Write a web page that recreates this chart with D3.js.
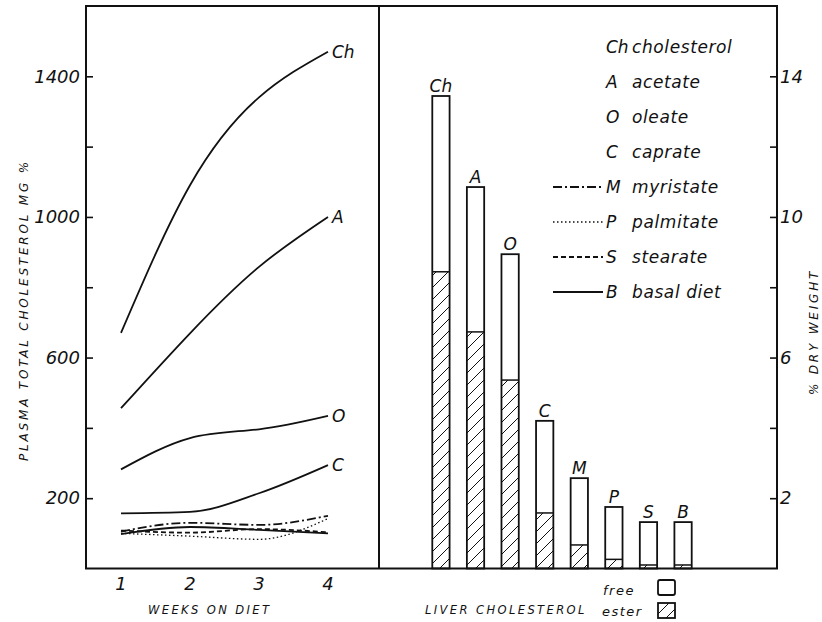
<!DOCTYPE html>
<html>
<head>
<meta charset="utf-8">
<script src="https://cdn.jsdelivr.net/npm/d3@7"></script>
<style>
  body { margin: 0; background: #fff; }
  text { font-family: "DejaVu Sans", sans-serif; font-style: italic; fill: #111; }
</style>
</head>
<body>
<svg width="822" height="622"></svg>
<script>
/**
 * data
 */
var weeks = [1, 2, 3, 4];
var plasmaCh = [670, 1090, 1340, 1470];
var plasmaA = [456, 669, 858, 1000];
var plasmaO = [282, 371, 396, 434];
var plasmaC = [157, 161, 214, 294];
var plasmaM = [105, 130, 124, 150];
var plasmaP = [100, 92, 83, 142];
var plasmaS = [108, 102, 112, 103];
var plasmaB = [98, 118, 110, 100];
var plasmaTicks = [200, 600, 1000, 1400];
var plasmaMinorTicks = [400, 800, 1200];

var barCodes = ["Ch", "A", "O", "C", "M", "P", "S", "B"];
var liverTotal = [13.44, 10.85, 8.94, 4.2, 2.57, 1.75, 1.32, 1.32];
var liverEster = [8.44, 6.73, 5.36, 1.58, 0.67, 0.26, 0.1, 0.1];
var pctTicks = [2, 6, 10, 14];
var pctMinorTicks = [4, 8, 12];

var legendCodes = ["Ch", "A", "O", "C", "M", "P", "S", "B"];
var legendNames = ["cholesterol", "acetate", "oleate", "caprate", "myristate", "palmitate", "stearate", "basal diet"];

// line styles for the lower curves
var dashes = { M: "9,3,2,3", P: "1.5,2.5", S: "5,3", B: null };

/**
 * svg set up
 */
var svg = d3.select("svg");
var frameLeft = 86, frameRight = 777, divider = 379, frameTop = 6, frameBottom = 568.5;

var y = d3.scaleLinear().domain([0, 1600]).range([frameBottom, frameTop]);
var yPct = d3.scaleLinear().domain([0, 16]).range([frameBottom, frameTop]);
var x = d3.scaleLinear().domain([1, 4]).range([121, 328]);
var xb = d3.scaleBand().domain(barCodes).range([415, 709])
    .paddingInner(0.5).paddingOuter(0.5);

// hatch pattern for ester part
var defs = svg.append("defs");
defs.append("pattern")
    .attr("id", "hatch")
    .attr("patternUnits", "userSpaceOnUse")
    .attr("width", 12).attr("height", 12)
  .append("path")
    .attr("d", "M-3,3 L3,-3 M0,12 L12,0 M9,15 L15,9")
    .attr("stroke", "#111").attr("stroke-width", 1);

// frame
svg.append("rect")
    .attr("x", frameLeft).attr("y", frameTop)
    .attr("width", frameRight - frameLeft).attr("height", frameBottom - frameTop)
    .attr("fill", "none").attr("stroke", "#111").attr("stroke-width", 2);
svg.append("line")
    .attr("x1", divider).attr("x2", divider).attr("y1", frameTop).attr("y2", frameBottom)
    .attr("stroke", "#111").attr("stroke-width", 2);

/**
 * axes (ticks point inward)
 */
function styleAxis(g) {
  g.select(".domain").remove();
  g.selectAll("line").attr("stroke", "#111").attr("stroke-width", 1.6);
  g.selectAll("text").attr("font-size", 18).attr("font-family", null).attr("fill", "#111");
}

svg.append("g").attr("transform", "translate(" + frameLeft + ",0)")
    .call(d3.axisLeft(y).tickValues(plasmaTicks).tickSize(-7).tickPadding(6).tickFormat(d3.format("d")))
    .call(styleAxis);
svg.append("g").attr("transform", "translate(" + frameLeft + ",0)")
    .call(d3.axisLeft(y).tickValues(plasmaMinorTicks).tickSize(-7).tickFormat(""))
    .call(styleAxis);

svg.append("g").attr("transform", "translate(" + frameRight + ",0)")
    .call(d3.axisRight(yPct).tickValues(pctTicks).tickSize(-7).tickPadding(3))
    .call(styleAxis);
svg.append("g").attr("transform", "translate(" + frameRight + ",0)")
    .call(d3.axisRight(yPct).tickValues(pctMinorTicks).tickSize(-7).tickFormat(""))
    .call(styleAxis);

// week labels
svg.append("g").selectAll("text")
    .data(weeks)
  .enter().append("text")
    .attr("x", d => x(d))
    .attr("y", 590)
    .attr("text-anchor", "middle")
    .attr("font-size", 18)
    .text(d => d);

// axis titles
svg.append("text")
    .attr("transform", "translate(28,310) rotate(-90)")
    .attr("text-anchor", "middle")
    .attr("font-size", 12)
    .attr("letter-spacing", 2.8)
    .text("PLASMA TOTAL CHOLESTEROL MG %");
svg.append("text")
    .attr("transform", "translate(818,332) rotate(-90)")
    .attr("text-anchor", "middle")
    .attr("font-size", 12)
    .attr("letter-spacing", 2.8)
    .text("% DRY WEIGHT");
svg.append("text")
    .attr("x", 148).attr("y", 614)
    .attr("font-size", 11.5)
    .attr("letter-spacing", 2.4)
    .text("WEEKS ON DIET");
svg.append("text")
    .attr("x", 425).attr("y", 614)
    .attr("font-size", 11.5)
    .attr("letter-spacing", 2.4)
    .text("LIVER CHOLESTEROL");

/**
 * plasma curves
 */
var series = [
  { code: "Ch", values: plasmaCh },
  { code: "A", values: plasmaA },
  { code: "O", values: plasmaO },
  { code: "C", values: plasmaC },
  { code: "M", values: plasmaM },
  { code: "P", values: plasmaP },
  { code: "S", values: plasmaS },
  { code: "B", values: plasmaB }
];

// smooth hand drawn look for the three big curves
var lineSmooth = d3.line()
    .x((d, i) => x(weeks[i]))
    .y(d => y(d))
    .curve(d3.curveNatural);
var lineFlat = d3.line()
    .x((d, i) => x(weeks[i]))
    .y(d => y(d))
    .curve(d3.curveMonotoneX);

svg.append("g").selectAll("path")
    .data(series)
  .enter().append("path")
    .attr("d", (d, i) => i < 3 ? lineSmooth(d.values) : lineFlat(d.values))
    .attr("fill", "none")
    .attr("stroke", "#111")
    .attr("stroke-width", d => d.code === "P" ? 1.3 : 1.8)
    .attr("stroke-dasharray", d => dashes[d.code] || null);

// end labels for the upper four
svg.append("g").selectAll("text")
    .data(series.slice(0, 4))
  .enter().append("text")
    .attr("x", x(4) + 4)
    .attr("y", d => y(d.values[3]) + 6)
    .attr("font-size", 17)
    .text(d => d.code);

/**
 * liver bars
 */
var bars = svg.append("g").selectAll("g")
    .data(barCodes.map((c, i) => ({ code: c, total: liverTotal[i], ester: liverEster[i] })))
  .enter().append("g");

bars.append("rect")
    .attr("x", d => xb(d.code))
    .attr("y", d => yPct(d.ester))
    .attr("width", xb.bandwidth())
    .attr("height", d => yPct(0) - yPct(d.ester))
    .attr("fill", "url(#hatch)");

bars.append("rect")
    .attr("x", d => xb(d.code))
    .attr("y", d => yPct(d.total))
    .attr("width", xb.bandwidth())
    .attr("height", d => yPct(0) - yPct(d.total))
    .attr("fill", "none")
    .attr("stroke", "#111").attr("stroke-width", 1.8);

bars.append("line")
    .attr("x1", d => xb(d.code)).attr("x2", d => xb(d.code) + xb.bandwidth())
    .attr("y1", d => yPct(d.ester)).attr("y2", d => yPct(d.ester))
    .attr("stroke", "#111").attr("stroke-width", 1.5);

bars.append("text")
    .attr("x", d => xb(d.code) + xb.bandwidth() / 2)
    .attr("y", d => yPct(d.total) - 4)
    .attr("text-anchor", "middle")
    .attr("font-size", 17)
    .text(d => d.code);

/**
 * legend
 */
var legend = svg.append("g").selectAll("g")
    .data(legendCodes.map((c, i) => ({ code: c, name: legendNames[i], i: i })))
  .enter().append("g")
    .attr("transform", d => "translate(0," + (47 + d.i * 35) + ")");

legend.filter(d => d.i >= 4).append("line")
    .attr("x1", 553).attr("x2", 603)
    .attr("stroke", "#111")
    .attr("stroke-width", d => d.code === "P" ? 1.3 : 1.8)
    .attr("stroke-dasharray", d => dashes[d.code] || null);

legend.append("text")
    .attr("x", 606).attr("y", 6)
    .attr("font-size", 17)
    .text(d => d.code);
legend.append("text")
    .attr("x", 632).attr("y", 6)
    .attr("font-size", 17)
    .attr("letter-spacing", 0.6)
    .text(d => d.name);

// free / ester key
svg.append("text").attr("x", 603).attr("y", 595).attr("font-size", 13).attr("letter-spacing", 1.5).text("free");
svg.append("text").attr("x", 602).attr("y", 616).attr("font-size", 13).attr("letter-spacing", 1.5).text("ester");
svg.append("rect")
    .attr("x", 658).attr("y", 580).attr("width", 17).attr("height", 15).attr("rx", 2)
    .attr("fill", "none").attr("stroke", "#111").attr("stroke-width", 1.8);
svg.append("rect")
    .attr("x", 658).attr("y", 603).attr("width", 17).attr("height", 15)
    .attr("fill", "url(#hatch)").attr("stroke", "#111").attr("stroke-width", 1.8);
</script>
</body>
</html>
